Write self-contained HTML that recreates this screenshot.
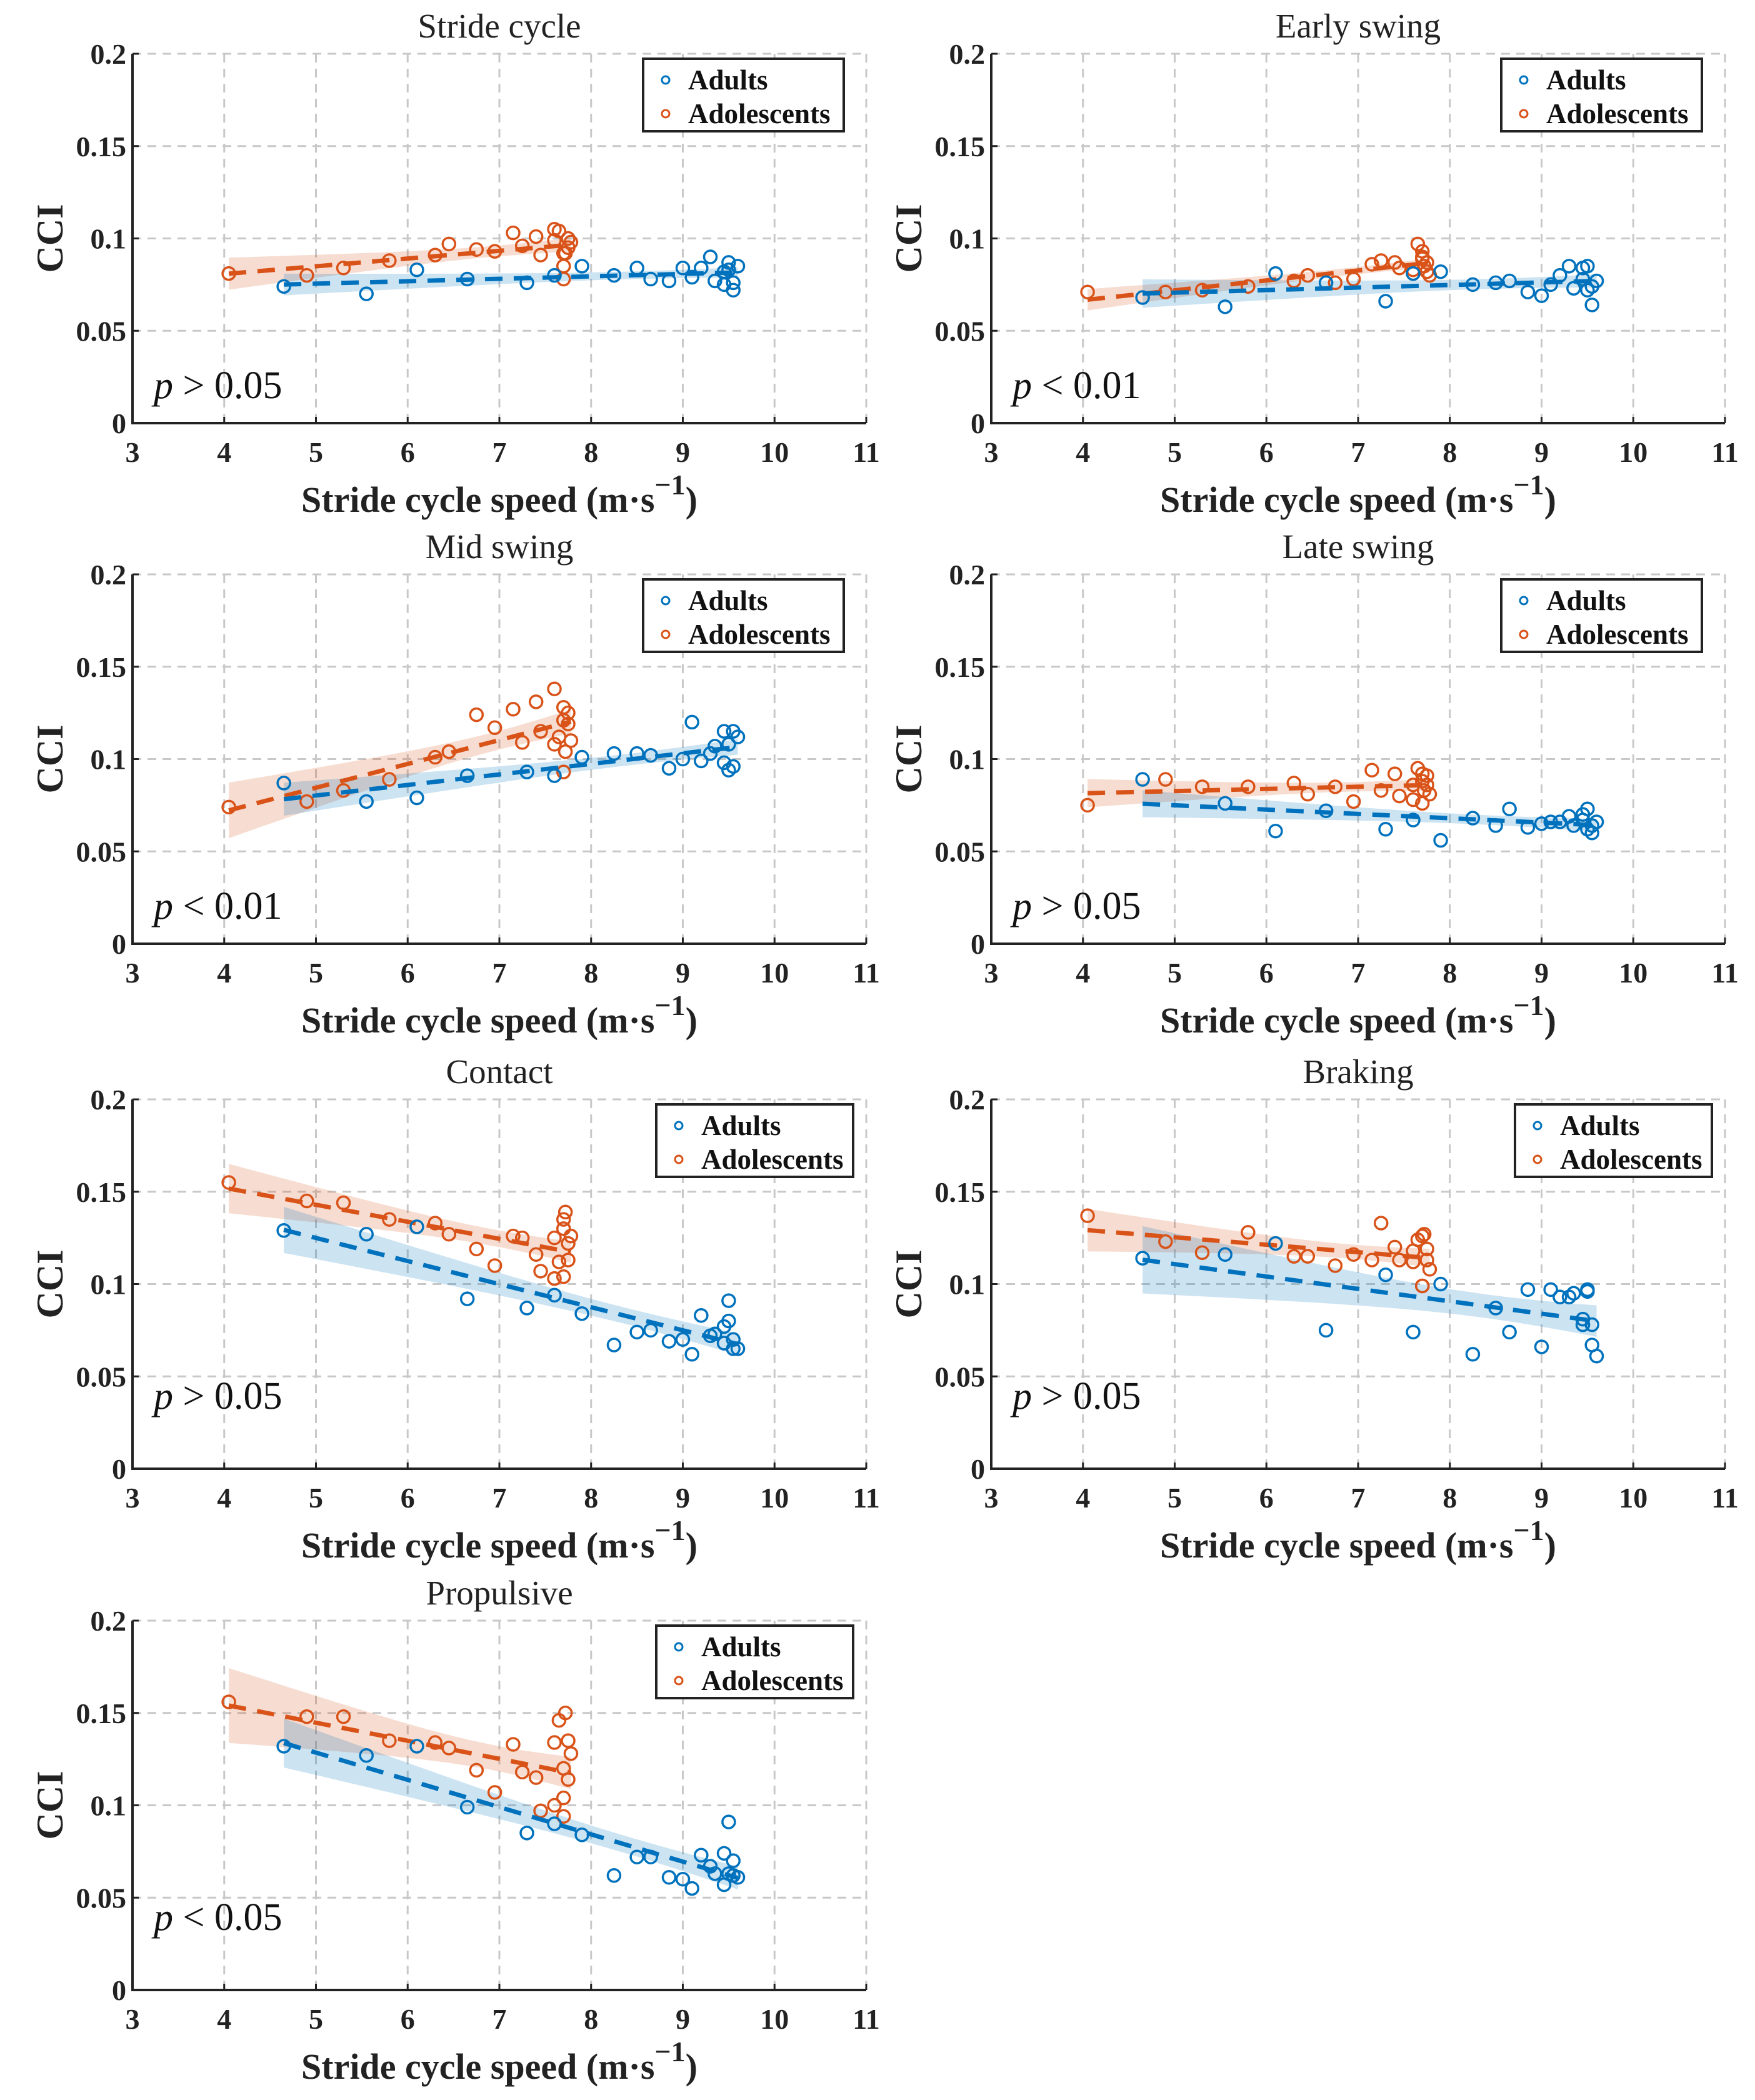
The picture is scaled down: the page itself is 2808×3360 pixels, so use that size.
<!DOCTYPE html>
<html><head><meta charset="utf-8"><style>
body{margin:0;background:#fff}
svg{display:block;font-family:"Liberation Serif",serif}
</style></head><body>
<svg id="chart" width="2808" height="3360" viewBox="0 0 2808 3360" xmlns="http://www.w3.org/2000/svg"></svg>
<script>
const panelTitles = ["Stride cycle","Early swing","Mid swing","Late swing","Contact","Braking","Propulsive"];
const pLabels = ["> 0.05","< 0.01","< 0.01","> 0.05","> 0.05","> 0.05","< 0.05"];
const xTicks = [3,4,5,6,7,8,9,10,11];
const yTicks = [0,0.05,0.1,0.15,0.2];
const yTickLabels = ["0","0.05","0.1","0.15","0.2"];
const adultX = [4.65,5.55,6.1,6.65,7.3,7.6,7.9,8.25,8.5,8.65,8.85,9.0,9.1,9.2,9.3,9.35,9.45,9.5,9.5,9.55,9.55,9.6,9.45];
const adolX = [4.05,4.9,5.3,5.8,6.3,6.45,6.75,6.95,7.15,7.25,7.4,7.45,7.6,7.6,7.65,7.7,7.7,7.72,7.75,7.75,7.78,7.7];
const adultStride = [.074,.070,.083,.078,.076,.080,.085,.080,.084,.078,.077,.084,.079,.084,.090,.077,.075,.083,.087,.072,.076,.085,.082];
const adolStride = [.081,.080,.084,.088,.091,.097,.094,.093,.103,.096,.101,.091,.105,.099,.104,.078,.085,.092,.100,.095,.098,.092];
const adultEarly = [.068,.063,.081,.076,.066,.081,.082,.075,.076,.077,.071,.069,.075,.080,.085,.073,.084,.072,.085,.064,.074,.077,.078];
const adolEarly = [.071,.071,.072,.074,.077,.080,.076,.078,.086,.088,.087,.084,.083,.081,.097,.093,.089,.085,.087,.082,.080,.090];
const adultMid = [.087,.077,.079,.091,.093,.091,.101,.103,.103,.102,.095,.100,.120,.099,.103,.107,.115,.094,.108,.096,.115,.112,.098];
const adolMid = [.074,.077,.083,.089,.101,.104,.124,.117,.127,.109,.131,.115,.138,.108,.112,.128,.093,.104,.125,.119,.110,.121];
const adultLate = [.089,.076,.061,.072,.062,.067,.056,.068,.064,.073,.063,.065,.066,.066,.069,.064,.070,.062,.073,.060,.064,.066,.067];
const adolLate = [.075,.089,.085,.085,.087,.081,.085,.077,.094,.083,.092,.080,.086,.078,.095,.092,.076,.083,.091,.086,.081,.088];
const adultContact = [.129,.127,.131,.092,.087,.094,.084,.067,.074,.075,.069,.070,.062,.083,.072,.073,.068,.091,.080,.065,.070,.065,.077];
const adolContact = [.155,.145,.144,.135,.133,.127,.119,.110,.126,.125,.116,.107,.103,.125,.112,.104,.135,.139,.122,.113,.126,.130];
const adultBraking = [.114,.116,.122,.075,.105,.074,.100,.062,.087,.074,.097,.066,.097,.093,.093,.095,.078,.097,.096,.067,.078,.061,.081];
const adolBraking = [.137,.123,.117,.128,.115,.115,.110,.116,.113,.133,.120,.113,.112,.118,.124,.099,.126,.127,.119,.113,.108,.099];
const adultProp = [.132,.127,.132,.099,.085,.090,.084,.062,.072,.072,.061,.060,.055,.073,.067,.063,.057,.091,.063,.070,.062,.061,.074];
const adolProp = [.156,.148,.148,.135,.134,.131,.119,.107,.133,.118,.115,.097,.100,.134,.146,.104,.120,.150,.114,.135,.128,.094];
const adultSeries = [adultStride,adultEarly,adultMid,adultLate,adultContact,adultBraking,adultProp];
const adolSeries = [adolStride,adolEarly,adolMid,adolLate,adolContact,adolBraking,adolProp];

const NS="http://www.w3.org/2000/svg";
const svg=document.getElementById('chart');
const BLUE="#0072BD", ORANGE="#D95319";
const colLeft=[212,1586], rowTop=[86,919,1759,2593], AW=1174, AH=591;
const legOff=[817,816,817,816,838,838,838], legW=[321,321,321,321,315,315,315];
function mk(tag,attrs,parent){const e=document.createElementNS(NS,tag);for(const k in attrs)e.setAttribute(k,attrs[k]);(parent||svg).appendChild(e);return e;}
function fitCI(xs,ys){const n=xs.length;let mx=0,my=0;for(let i=0;i<n;i++){mx+=xs[i];my+=ys[i];}mx/=n;my/=n;
 let sxx=0,sxy=0;for(let i=0;i<n;i++){sxx+=(xs[i]-mx)**2;sxy+=(xs[i]-mx)*(ys[i]-my);}
 const b=sxy/sxx,a=my-b*mx;let sse=0;for(let i=0;i<n;i++)sse+=(ys[i]-a-b*xs[i])**2;const s=Math.sqrt(sse/(n-2));
 return {a,b,ci:x=>2.08*s*Math.sqrt(1/n+(x-mx)**2/sxx),min:Math.min(...xs),max:Math.max(...xs)};}

panelTitles.forEach((title,pi)=>{
 const L=colLeft[pi%2],T=rowTop[Math.floor(pi/2)],B=T+AH;
 const X=v=>L+(v-3)/8*AW, Y=v=>B-v/0.2*AH;
 const g=mk('g',{});
 
 
 xTicks.forEach(t=>{if(t>3){const l=mk('line',{x1:X(t),x2:X(t),y1:T,y2:B,stroke:'#c8c8c8','stroke-width':3,'stroke-dasharray':'14,10'},g);}});
 yTicks.forEach(t=>{if(t>0){const l=mk('line',{x1:L,x2:L+AW,y1:Y(t),y2:Y(t),stroke:'#c8c8c8','stroke-width':3,'stroke-dasharray':'14,10'},g);}});
 [[adolX,adolSeries[pi],ORANGE,'adolescents'],[adultX,adultSeries[pi],BLUE,'adults']].forEach(([xs,ys,c,nm])=>{
  const f=fitCI(xs,ys);const N=30;let up=[],dn=[];
  for(let k=0;k<=N;k++){const x=f.min+(f.max-f.min)*k/N,y=f.a+f.b*x,e=f.ci(x);up.push(X(x)+','+Y(y+e));dn.unshift(X(x)+','+Y(y-e));}
  const band=mk('polygon',{points:up.concat(dn).join(' '),fill:c,'fill-opacity':0.2,stroke:'none'},g);
  
 });
 [[adolX,adolSeries[pi],ORANGE,'adolescents'],[adultX,adultSeries[pi],BLUE,'adults']].forEach(([xs,ys,c,nm])=>{
  const f=fitCI(xs,ys);
  const ln=mk('line',{x1:X(f.min),y1:Y(f.a+f.b*f.min),x2:X(f.max),y2:Y(f.a+f.b*f.max),stroke:c,'stroke-width':7,'stroke-dasharray':'28,18'},g);
  
  xs.forEach((x,i)=>{const p=mk('circle',{cx:X(x),cy:Y(ys[i]),r:10,fill:'none',stroke:c,'stroke-width':3.5},g);
   });
 });
 const ax=mk('path',{d:`M${L},${T} L${L},${B} L${L+AW},${B}`,fill:'none',stroke:'#222','stroke-width':4},g);
 
 xTicks.forEach(t=>{mk('line',{x1:X(t),x2:X(t),y1:B,y2:B-10,stroke:'#222','stroke-width':3},g);
  const tx=mk('text',{x:X(t),y:B+62,'text-anchor':'middle','font-size':46,'font-weight':'bold',fill:'#222'},g);tx.textContent=t;
  });
 yTicks.forEach((t,i)=>{mk('line',{x1:L,x2:L+10,y1:Y(t),y2:Y(t),stroke:'#222','stroke-width':3},g);
  const tx=mk('text',{x:L-10,y:Y(t)+16,'text-anchor':'end','font-size':46,'font-weight':'bold',fill:'#222'},g);tx.textContent=yTickLabels[i];
  });
 const tt=mk('text',{x:L+AW/2,y:T-26,'text-anchor':'middle','font-size':55,fill:'#222'},g);tt.textContent=title;
 
 const xl=mk('text',{x:L+AW/2,y:B+142,'text-anchor':'middle','font-size':58,'font-weight':'bold',fill:'#222'},g);
 xl.innerHTML='Stride cycle speed (m·s<tspan dy="-28" font-size="46">−1</tspan><tspan dy="28">)</tspan>';
 
 const yl=mk('text',{x:0,y:0,transform:`translate(${L-112},${T+AH/2}) rotate(-90)`,'text-anchor':'middle','font-size':60,'font-weight':'bold',fill:'#222'},g);
 yl.textContent='CCI';
 const pt=mk('text',{x:L+34,y:B-(pi>=4?96:40),'font-size':62,fill:'#111'},g);
 pt.innerHTML='<tspan font-style="italic">p</tspan> '+pLabels[pi].replace('<','&lt;').replace('>','&gt;');
 
 const lx=L+legOff[pi],ly=T+8,lw=legW[pi];
 const lg=mk('g',{},g);
 mk('rect',{x:lx,y:ly,width:lw,height:116,fill:'#fff',stroke:'#222','stroke-width':4},lg);
 [['Adults',BLUE],['Adolescents',ORANGE]].forEach(([n,c],k)=>{
  const cy=ly+34+k*54;
  mk('circle',{cx:lx+36,cy:cy,r:6,fill:'none',stroke:c,'stroke-width':3},lg);
  const t=mk('text',{x:lx+72,y:cy+15,'font-size':45,'font-weight':'bold',fill:'#111'},lg);t.textContent=n;
  
 });
});
</script>
</body></html>
